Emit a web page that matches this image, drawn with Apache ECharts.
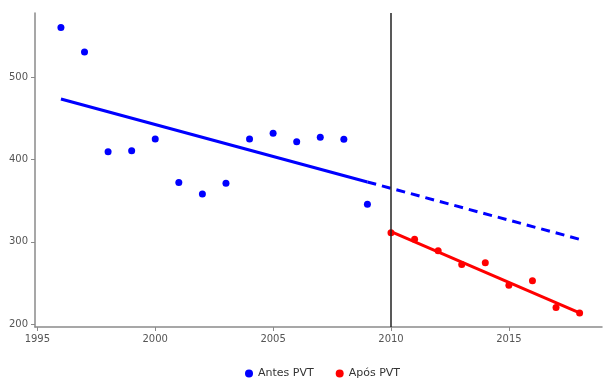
<!DOCTYPE html>
<html>
<head>
    <meta charset="UTF-8">
    <title></title>
</head>
<body style="margin:0">
<div id='mychart' style="width: 603px;height:383px;"></div>
<script src='https://cdn.jsdelivr.net/npm/echarts@6/dist/echarts.min.js'></script>
<script>
    // pontos
    var antesAnos = [1996, 1997, 1998, 1999, 2000, 2001, 2002, 2003, 2004, 2005, 2006, 2007, 2008, 2009];
    var antesVals = [560.5, 530.5, 409.5, 410.5, 425, 372, 358, 371, 425, 432, 421.5, 427, 424.5, 345.5];
    var aposAnos = [2010, 2011, 2012, 2013, 2014, 2015, 2016, 2017, 2018];
    var aposVals = [311, 303, 289, 272.5, 274.5, 247, 252.5, 220, 213.5];

    // retas de tendência (extremos)
    var tendAntes = [[1996, 473.4], [2009, 372.7]];
    var tendAntesProj = [[2009, 372.7], [2018, 303]];
    var tendApos = [[2010, 312.3], [2018, 213.7]];

    var xTicks = [1995, 2000, 2005, 2010, 2015];
    var yTicks = [200, 300, 400, 500];

    function pares(xs, ys) {
        var res = [];
        for (var i = 0; i < xs.length; i++) {
            res.push([xs[i], ys[i]]);
        }
        return res;
    }

    var myChart = echarts.init(document.getElementById('mychart'));

    var corEixo = '#8a8a8a';
    var fonte = 'DejaVu Sans';

    var option = {
        animation: false,
        grid: {left: 35, right: 1, top: 13, bottom: 56},
        legend: {
            data: ['Antes PVT', 'Após PVT'],
            bottom: -1,
            left: 240,
            icon: 'circle',
            itemWidth: 8,
            itemHeight: 8,
            itemGap: 22,
            textStyle: {color: '#333', fontSize: 11, fontFamily: fonte}
        },
        xAxis: {
            type: 'value',
            min: 1994.9,
            max: 2018.95,
            axisLine: {lineStyle: {color: corEixo, width: 1.5}},
            axisTick: {length: 4, lineStyle: {color: corEixo}, customValues: xTicks},
            splitLine: {show: false},
            axisLabel: {
                color: '#555', fontSize: 10, fontFamily: fonte, margin: 7,
                customValues: xTicks,
                formatter: function (v) { return String(v); }
            }
        },
        yAxis: {
            type: 'value',
            min: 196.4,
            max: 578,
            axisLine: {show: true, lineStyle: {color: corEixo, width: 1.5}},
            axisTick: {show: true, length: 4, lineStyle: {color: corEixo}, customValues: yTicks},
            splitLine: {show: false},
            axisLabel: {color: '#555', fontSize: 10, fontFamily: fonte, margin: 7, customValues: yTicks}
        },
        series: [
            {
                name: 'tend antes',
                type: 'line',
                data: tendAntes,
                symbol: 'none',
                lineStyle: {color: '#0000ff', width: 3},
                silent: true,
                markLine: {
                    silent: true,
                    symbol: 'none',
                    label: {show: false},
                    lineStyle: {color: '#222', width: 1.5, type: 'solid'},
                    data: [{xAxis: 2010}]
                }
            },
            {
                name: 'tend antes proj',
                type: 'line',
                data: tendAntesProj,
                symbol: 'none',
                lineStyle: {color: '#0000ff', width: 3, type: [9, 6]},
                silent: true
            },
            {
                name: 'tend apos',
                type: 'line',
                data: tendApos,
                symbol: 'none',
                lineStyle: {color: '#ff0000', width: 3},
                silent: true
            },
            {
                name: 'Antes PVT',
                type: 'scatter',
                data: pares(antesAnos, antesVals),
                symbolSize: 7,
                itemStyle: {color: '#0000ff', opacity: 1}
            },
            {
                name: 'Após PVT',
                type: 'scatter',
                data: pares(aposAnos, aposVals),
                symbolSize: 7,
                itemStyle: {color: '#ff0000', opacity: 1}
            }
        ]
    };

    myChart.setOption(option);
</script>
</body>
</html>
